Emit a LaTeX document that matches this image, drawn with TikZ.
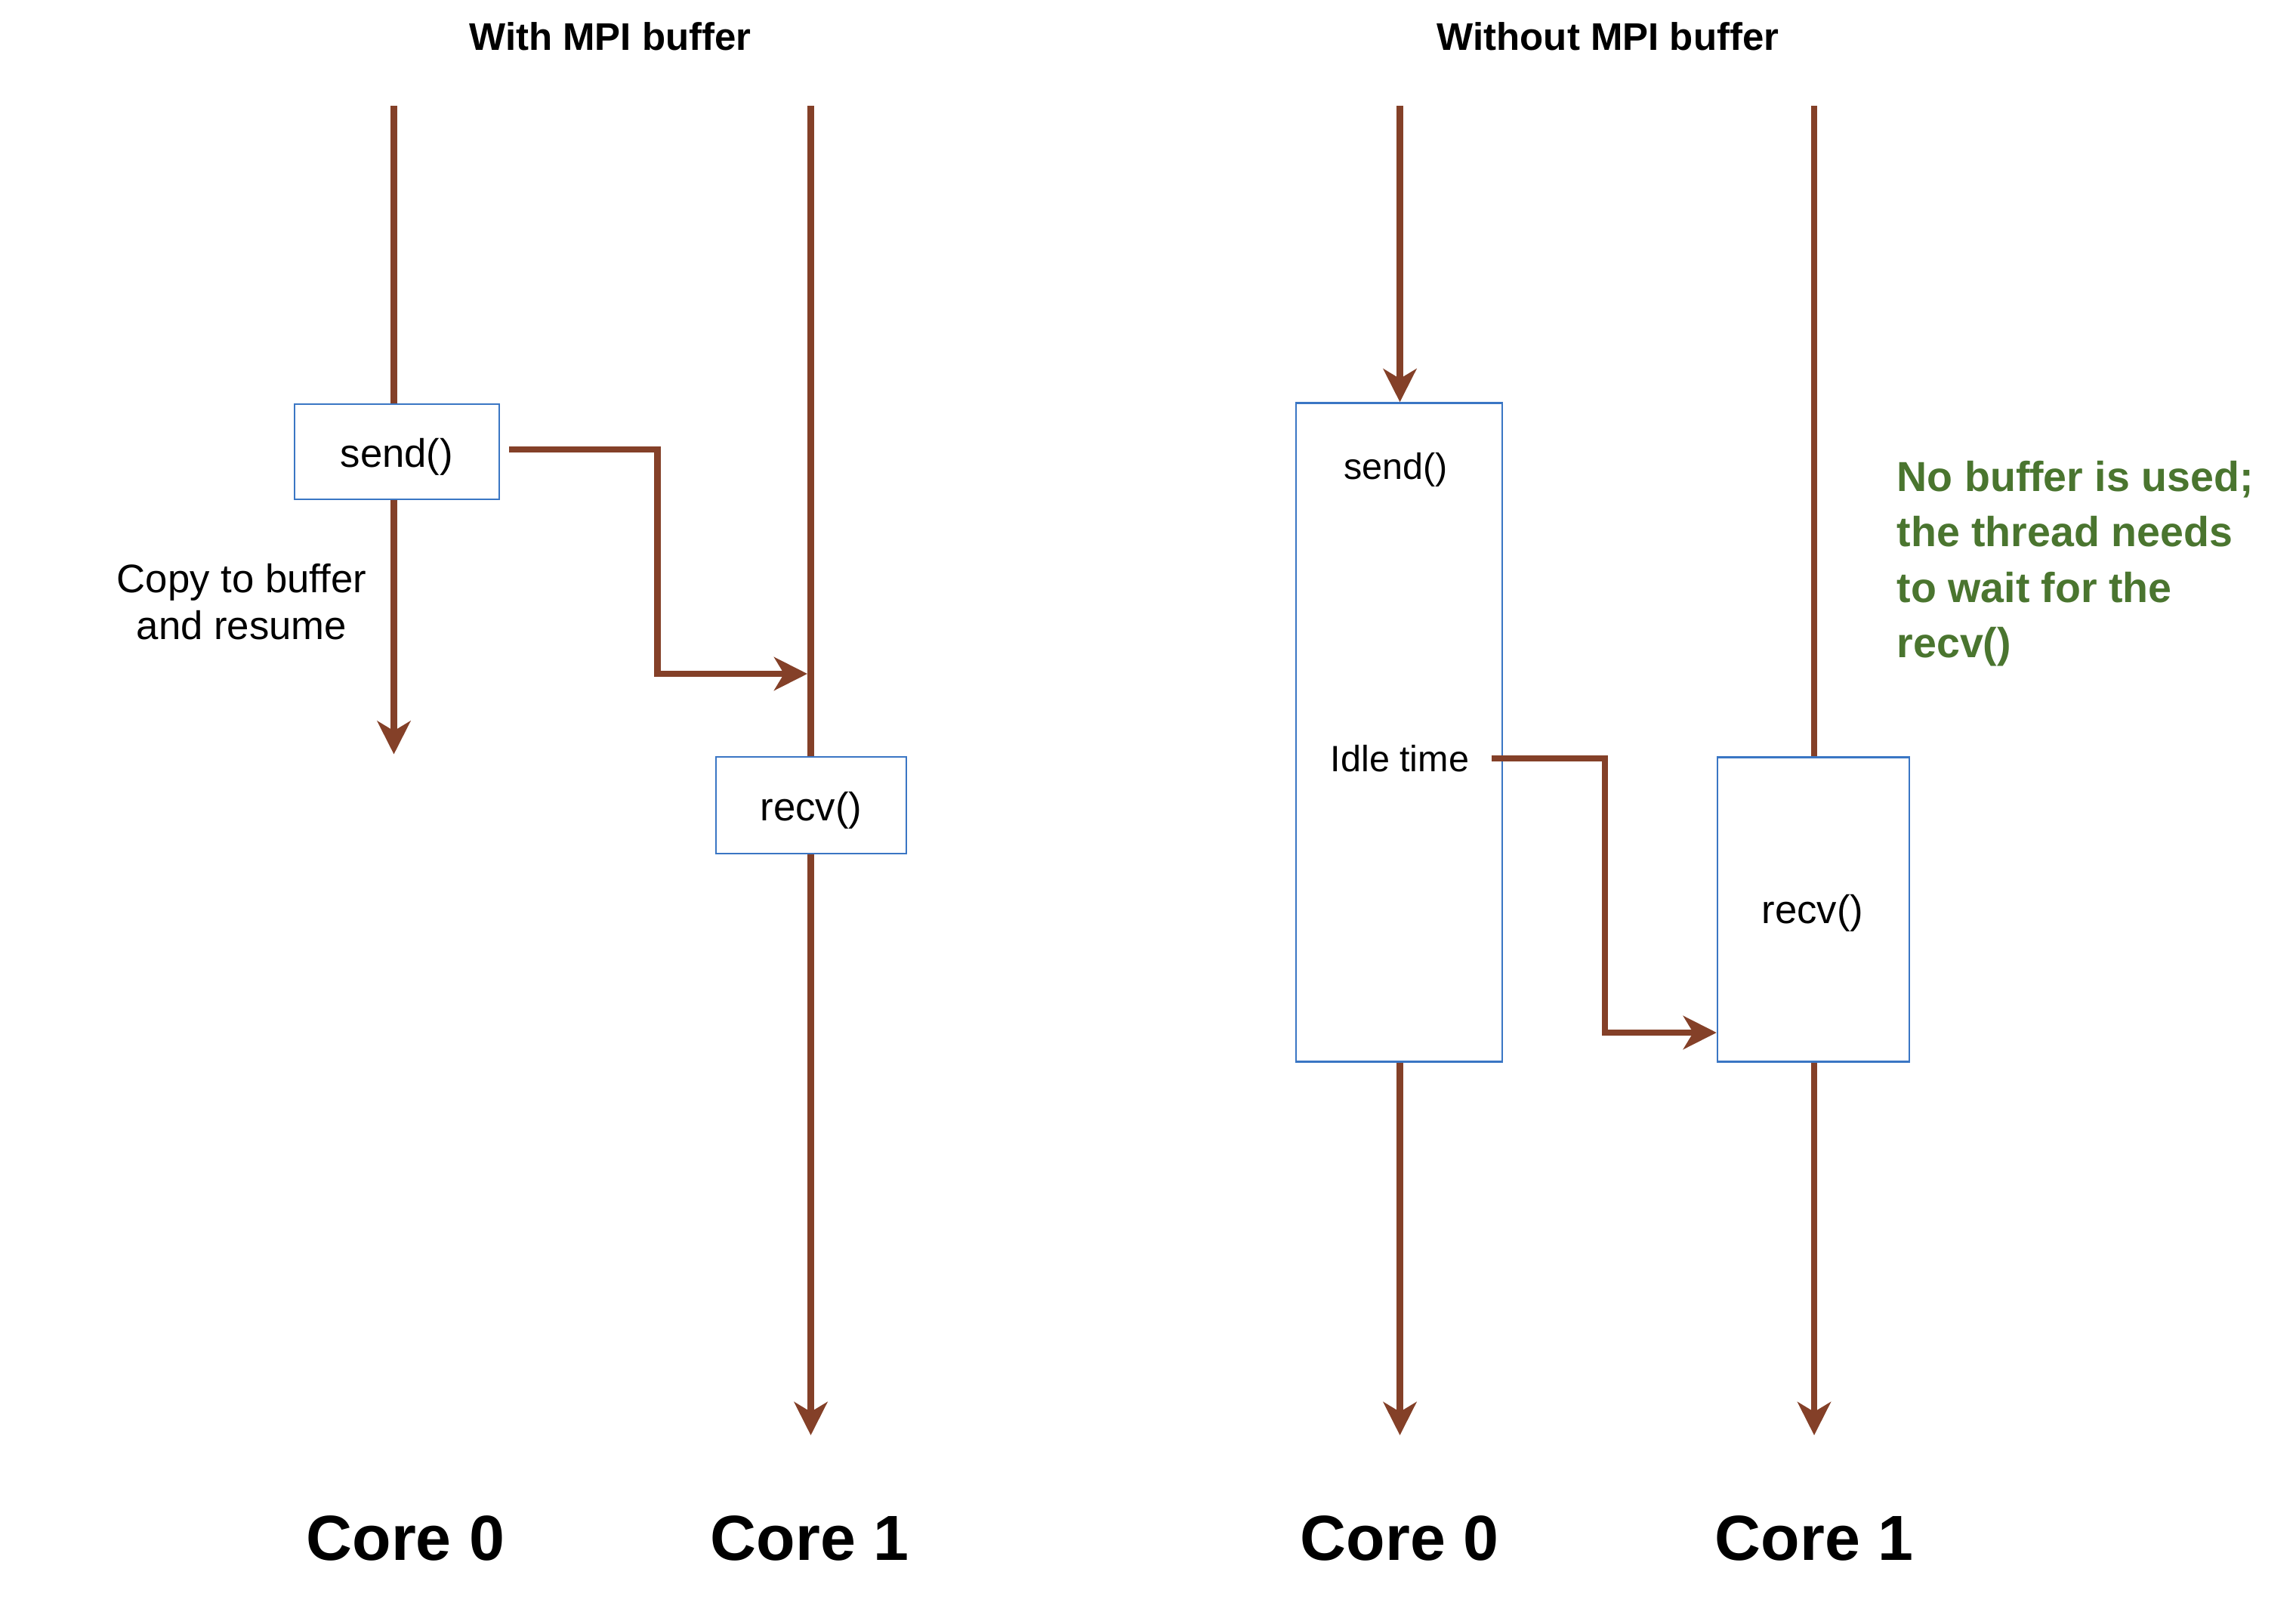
\documentclass[tikz,border=0pt]{standalone}
\usepackage{fontspec}
\setmainfont{Liberation Sans}
\usetikzlibrary{arrows.meta,calc}
\definecolor{flowbrown}{RGB}{132,64,40}
\definecolor{boxblue}{RGB}{58,118,196}
\definecolor{notegreen}{RGB}{74,117,47}
\begin{document}
\begin{tikzpicture}[y=-1cm,
  flow/.style={draw=flowbrown, line width=0.085cm},
  flowarr/.style={flow, -{Stealth[length=12.5pt, width=12.5pt, inset=3.7pt]}},
  procbox/.style={draw=boxblue, line width=0.7pt, inner sep=0pt},
  plain/.style={inner sep=0pt, font=\fontsize{15}{18}\selectfont},
  small/.style={inner sep=0pt, font=\fontsize{13.8}{17}\selectfont},
  title/.style={inner sep=0pt, font=\bfseries\fontsize{14.5}{17}\selectfont},
  corelabel/.style={inner sep=0pt, font=\bfseries\fontsize{24}{28}\selectfont},
  note/.style={inner sep=0pt, anchor=west, align=left, text=notegreen, font=\bfseries\fontsize{15.8}{20.9}\selectfont}]
\useasboundingbox (0,0) rectangle (30.4,21.34);

% titles
\node[title] (t1) at (8.08,0.48) {With MPI buffer};
\node[title] (t2) at (21.29,0.48) {Without MPI buffer};

% ---------- left: with buffer ----------
\node[procbox, minimum width=2.71cm, minimum height=1.26cm] (sendL) at (5.254,5.98) {};
\node[plain] (sendLt) at ([yshift=-0.07cm]sendL.center) {send()};
\node[procbox, minimum width=2.52cm, minimum height=1.28cm] (recvL) at (10.74,10.66) {};
\node[plain] (recvLt) at ([yshift=-0.07cm]recvL.center) {recv()};

\coordinate (l0top) at (5.215,1.40);
\coordinate (l0end) at (5.215,9.985);
\coordinate (l1top) at (10.735,1.40);
\coordinate (l1end) at (10.735,19.0);
\coordinate (lm) at (8.705,8.92);
\coordinate (lhit) at (10.69,8.92);

\draw[flow] (l0top) -- (l0top |- sendL.north);
\draw[flowarr] (l0top |- sendL.south) -- (l0end);
\draw[flow] (l1top) -- (l1top |- recvL.north);
\draw[flowarr] (l1top |- recvL.south) -- (l1end);
\draw[flowarr] ([xshift=0.12cm,yshift=0.03cm]sendL.east) -| (lm) -- (lhit);

\node[plain, align=center, font=\fontsize{15}{17.6}\selectfont] (copy) at (3.20,7.97) {Copy to buffer\\and resume};

\node[corelabel] (c0L) at (5.37,20.36) {Core 0};
\node[corelabel] (c1L) at (10.72,20.36) {Core 1};

% ---------- right: without buffer ----------
\node[procbox, minimum width=2.73cm, minimum height=8.72cm] (sendR) at (18.525,9.695) {};
\node[small] (sendRt) at (18.48,6.22) {send()};
\node[small] (idle) at (18.535,10.04) {Idle time};
\node[procbox, minimum width=2.54cm, minimum height=4.03cm] (recvR) at (24.01,12.04) {};
\node[plain] (recvRt) at (24.00,12.09) {recv()};

\coordinate (r0top) at (18.535,1.40);
\coordinate (r0end) at (18.535,19.0);
\coordinate (r1top) at (24.02,1.40);
\coordinate (r1end) at (24.02,19.0);
\coordinate (rm) at (21.25,13.67);

\draw[flowarr] (r0top) -- (r0top |- sendR.north);
\draw[flowarr] (r0top |- sendR.south) -- (r0end);
\draw[flow] (r1top) -- (r1top |- recvR.north);
\draw[flowarr] (r1top |- recvR.south) -- (r1end);
\draw[flowarr] ([xshift=0.29cm]idle.east) -| (rm) -- (rm -| recvR.west);

\node[note] (nb) at (25.11,7.46) {No buffer is used;\\the thread needs\\to wait for the\\recv()};

\node[corelabel] (c0R) at (18.53,20.36) {Core 0};
\node[corelabel] (c1R) at (24.02,20.36) {Core 1};
\end{tikzpicture}
\end{document}
